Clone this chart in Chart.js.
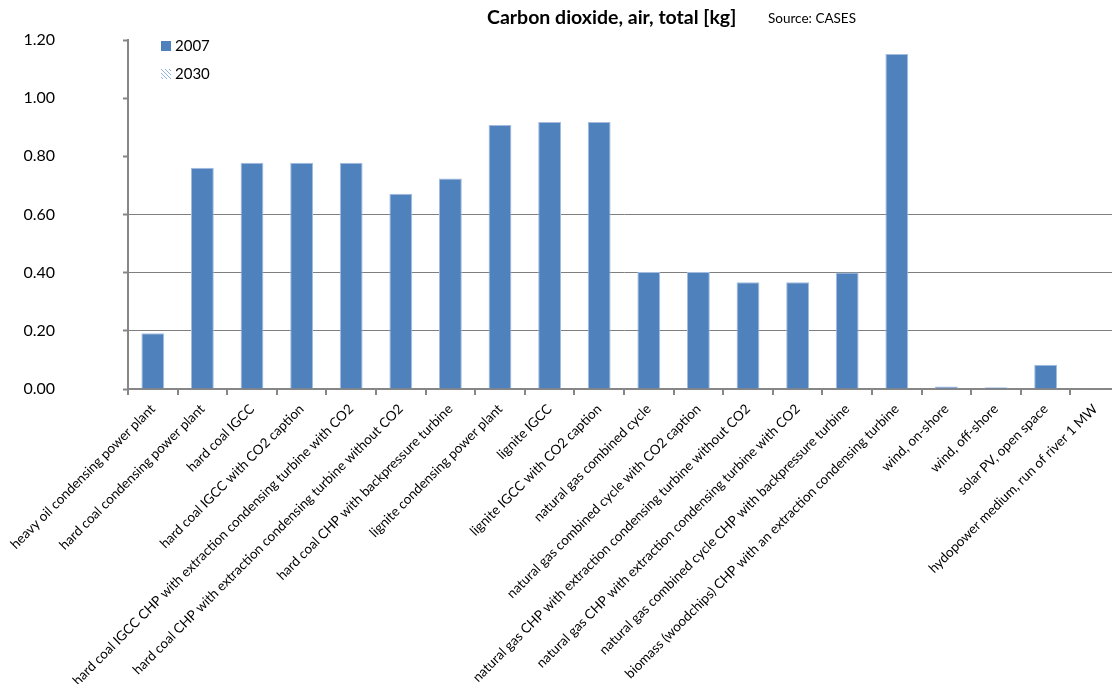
<!DOCTYPE html>
<html lang="en">

<head>
  <meta charset="UTF-8" />
  <meta name="viewport" content="width=device-width, initial-scale=1" />
  <script src="https://cdn.jsdelivr.net/npm/chart.js"></script>
  <title>Carbon dioxide, air, total</title>
  <style>
    html, body {
      margin: 0;
      padding: 0;
      background: #fff;
      overflow: hidden;
    }

    .wrap {
      position: relative;
      width: 1120px;
      height: 684px;
    }

    .title {
      position: absolute;
      left: 487px;
      top: 5px;
      font: bold 19.5px Lato, sans-serif;
      color: #000;
      white-space: nowrap;
    }

    .source {
      position: absolute;
      left: 768px;
      top: 10px;
      font: 13.5px Lato, sans-serif;
      color: #000;
      white-space: nowrap;
    }
  </style>
</head>

<body>
  <div class="wrap">
    <canvas id="co2Chart" width="1120" height="684"></canvas>
    <div class="title">Carbon dioxide, air, total [kg]</div>
    <div class="source">Source: CASES</div>
  </div>

  <script>
    // categorias (tecnologias)
    const technologies = [
      "heavy oil condensing power plant",
      "hard coal condensing power plant",
      "hard coal IGCC",
      "hard coal IGCC with CO2 caption",
      "hard coal IGCC CHP with extraction condensing turbine with CO2",
      "hard coal CHP with extraction condensing turbine without CO2",
      "hard coal CHP with backpressure turbine",
      "lignite condensing power plant",
      "lignite IGCC",
      "lignite IGCC with CO2 caption",
      "natural gas combined cycle",
      "natural gas combined cycle with CO2 caption",
      "natural gas CHP with extraction condensing turbine without CO2",
      "natural gas CHP with extraction condensing turbine with CO2",
      "natural gas combined cycle CHP with backpressure turbine",
      "biomass (woodchips) CHP with an extraction condensing turbine",
      "wind, on-shore",
      "wind, off-shore",
      "solar PV, open space",
      "hydopower medium, run of river 1 MW",
    ];

    const values2007 = [
      0.192, 0.761, 0.778, 0.778, 0.778, 0.671, 0.724, 0.908, 0.918, 0.918,
      0.402, 0.402, 0.367, 0.367, 0.401, 1.152, 0.009, 0.006, 0.083, 0.001,
    ];

    // 2030 aparece só na legenda
    const values2030 = [
      null, null, null, null, null, null, null, null, null, null,
      null, null, null, null, null, null, null, null, null, null,
    ];

    const seriesLabels = ["2007", "2030"];
    const yTicks = [0, 0.2, 0.4, 0.6, 0.8, 1.0, 1.2];

    const FONT = "Lato, sans-serif";
    const AXIS_GRAY = "#868686";

    // padrão hachurado para 2030
    function makeHatch() {
      const c = document.createElement("canvas");
      c.width = 4;
      c.height = 4;
      const g = c.getContext("2d");
      g.strokeStyle = "#8db3e2";
      g.lineWidth = 1;
      g.beginPath();
      g.moveTo(0, 0);
      g.lineTo(4, 4);
      g.stroke();
      return g.createPattern(c, "repeat");
    }
    const hatch = makeHatch();

    // legenda dentro da área do gráfico
    const insideLegend = {
      id: "insideLegend",
      afterDraw(chart) {
        const ctx = chart.ctx;
        ctx.save();
        ctx.font = "15px " + FONT;
        ctx.textBaseline = "middle";
        chart.data.datasets.forEach((ds, i) => {
          const y = 46 + i * 28;
          ctx.fillStyle = ds.legendColor;
          ctx.fillRect(161, y - 5, 10, 10);
          ctx.fillStyle = "#000";
          ctx.fillText(ds.label, 175, y);
        });
        ctx.restore();
      },
    };

    const ctx = document.getElementById("co2Chart").getContext("2d");

    new Chart(ctx, {
      type: "bar",
      data: {
        labels: technologies,
        datasets: [
          {
            label: seriesLabels[0],
            data: values2007,
            backgroundColor: "#4f81bd",
            legendColor: "#4f81bd",
            borderColor: "#a4bddf",
            borderWidth: 1,
          },
          {
            label: seriesLabels[1],
            data: values2030,
            backgroundColor: hatch,
            legendColor: hatch,
          },
        ],
      },
      options: {
        responsive: false,
        animation: false,
        grouped: false,
        categoryPercentage: 1,
        barPercentage: 0.46,
        layout: {
          padding: { top: 40, right: 0, left: 0, bottom: 0 },
        },
        plugins: {
          legend: { display: false },
          title: { display: false },
          tooltip: { enabled: false },
        },
        scales: {
          x: {
            offset: true,
            afterFit(scale) {
              scale.height = 295;
            },
            grid: {
              drawOnChartArea: false,
              offset: true,
              tickLength: 6,
              color: AXIS_GRAY,
              lineWidth: 2,
            },
            border: { color: AXIS_GRAY, width: 2 },
            ticks: {
              autoSkip: false,
              minRotation: 45,
              maxRotation: 45,
              padding: 6,
              color: "#000",
              font: { family: FONT, size: 13.5 },
            },
          },
          y: {
            min: 0,
            max: 1.2,
            afterFit(scale) {
              scale.width = 128;
              // o padding dos rótulos não deve empurrar a área do gráfico
              scale.paddingTop = 0;
              scale.paddingBottom = 0;
            },
            afterBuildTicks(scale) {
              scale.ticks = yTicks.map((v) => ({ value: v }));
            },
            grid: {
              tickLength: 5,
              tickColor: AXIS_GRAY,
              tickWidth: 2,
              lineWidth: 1,
              color: (c) => (c.tick && c.tick.value > 0 && c.tick.value <= 0.6 ? "#7f7f7f" : "rgba(0,0,0,0)"),
            },
            border: { color: AXIS_GRAY, width: 2 },
            ticks: {
              padding: 68,
              color: "#000",
              font: { family: FONT, size: 16 },
              callback: (v) => Number(v).toFixed(2),
            },
          },
        },
      },
      plugins: [insideLegend],
    });
  </script>
</body>

</html>
